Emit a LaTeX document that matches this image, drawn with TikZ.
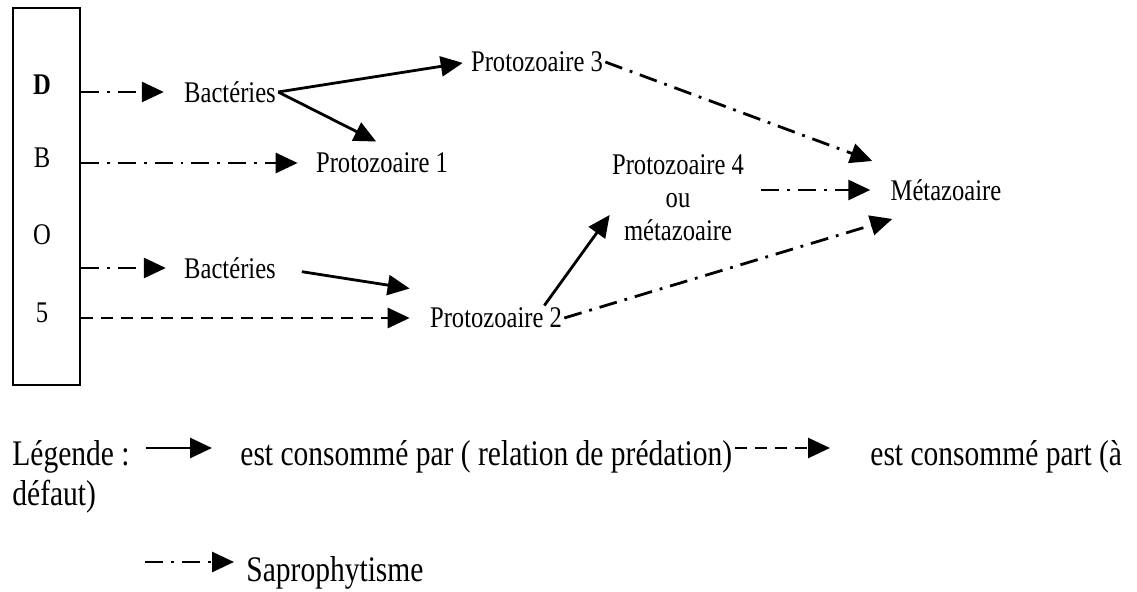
\documentclass[tikz,border=0pt]{standalone}
\usepackage{fontspec}
\newfontfamily\figfont[FakeStretch=0.82]{Liberation Serif}
\usetikzlibrary{arrows.meta}

\tikzset{
  lbl/.style={font=\figfont\fontsize{15}{16.5}\selectfont, inner sep=1pt},
  leg/.style={font=\figfont\fontsize{18}{15}\selectfont, inner sep=0pt, anchor=base west},
  tip/.style={-{Triangle[length=11pt,width=10pt]}},
  pred/.style={tip, line width=1.4pt},
  defaut/.style={tip, line width=1.4pt, dash pattern=on 6pt off 4pt},
  sapro/.style={tip, line width=1.4pt, dash pattern=on 9pt off 4pt on 1.4pt off 4pt},
}

\begin{document}
\begin{tikzpicture}[x=0.5pt,y=-0.5pt]
  \useasboundingbox (0,0) rectangle (1137,592);

  % DBO5 box
  \node (dbo) [draw, line width=1pt, minimum width=33.5pt, minimum height=188.5pt, inner sep=0pt] at (46.5,196.5) {};
  \node (lD) [lbl] at (42,85) {\bfseries D};
  \node (lB) [lbl] at (42,158) {B};
  \node (lO) [lbl] at (42,235) {O};
  \node (l5) [lbl] at (42,313) {5};

  % organisms
  \node (bactA) [lbl] at (230,92) {Bactéries};
  \node (bactB) [lbl] at (230,268) {Bactéries};
  \node (protoA) [lbl] at (382,163) {Protozoaire 1};
  \node (protoB) [lbl] at (496,318) {Protozoaire 2};
  \node (protoC) [lbl] at (537,62) {Protozoaire 3};
  \node (protoD) [lbl, align=center] at (678,198) {Protozoaire 4\\ou\\métazoaire};
  \node (meta) [lbl] at (946,190) {Métazoaire};

  % connectors
  \draw[sapro, shorten >=9pt] (dbo.east |- bactA) -- (bactA.west);
  \draw[pred, shorten >=3pt] (bactA.east) -- (protoC.west);
  \draw[pred, shorten >=10pt] (bactA.east) -- ([xshift=6pt]protoA.north);
  \draw[sapro, shorten >=8pt] (dbo.east |- protoA) -- (protoA.west);
  \draw[sapro, shorten >=8pt] (dbo.east |- bactB) -- (bactB.west);
  \draw[pred, shorten <=12pt] (bactB.east) -- ([shift={(-18,-17)}]protoB.north west);
  \draw[defaut, shorten >=9pt] (dbo.east |- protoB) -- (protoB.west);
  \draw[pred] ([shift={(-20,0)}]protoB.north east) -- ([shift={(0,17)}]protoD.west);
  \draw[sapro] (protoC.east) -- ([shift={(-16,-16)}]meta.north west);
  \draw[sapro, shorten <=7.5pt, shorten >=9pt] (protoD.east |- meta) -- (meta.west);
  \draw[sapro] (protoB.east) -- ([shift={(4,16)}]meta.south west);

  % legend
  \node (legA) [leg] at (12,466) {Légende :};
  \node (legB) [leg] at (240,466) {est consommé par ( relation de prédation)};
  \node (legC) [leg] at (870,466) {est consommé part (à};
  \node (legD) [leg] at (12,506) {défaut)};
  \node (legE) [leg] at (246,582) {Saprophytisme};
  \coordinate (sapS) at (145,562);

  \draw[pred, shorten <=8pt, shorten >=14pt] (legA.east |- 0,448) -- (legB.west |- 0,448);
  \draw[defaut, shorten <=1pt, shorten >=20pt] (legB.east |- 0,448) -- (legC.west |- 0,448);
  \draw[sapro, shorten >=6pt] (sapS) -- (sapS -| legE.west);

\end{tikzpicture}
\end{document}
